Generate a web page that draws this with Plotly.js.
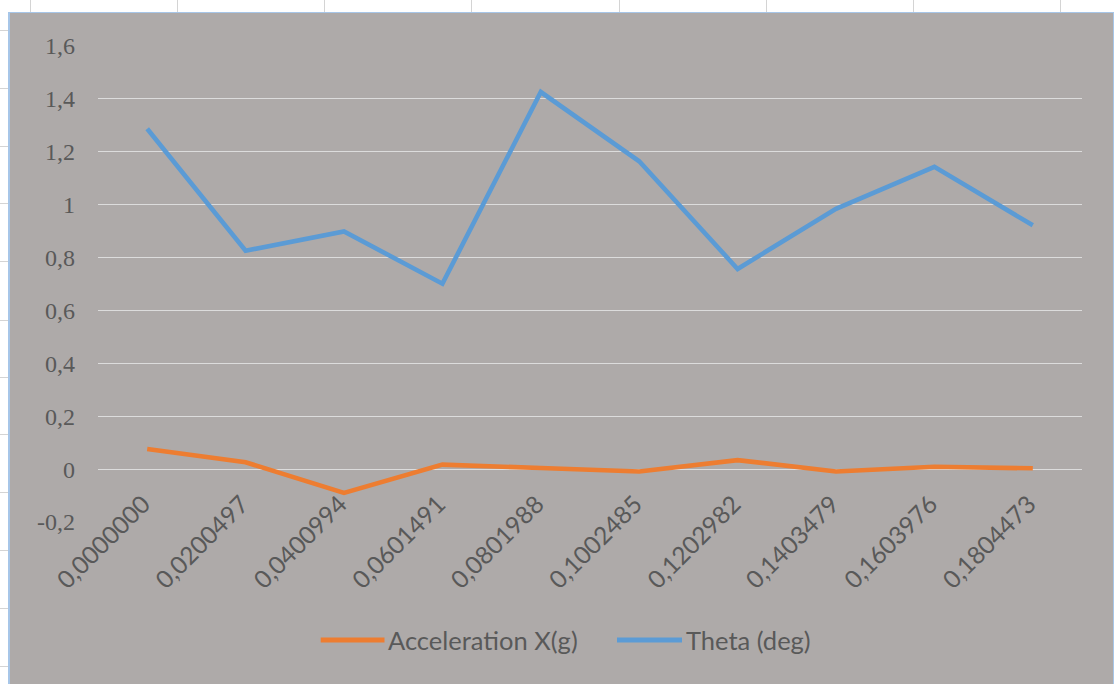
<!DOCTYPE html>
<html>
<head>
<meta charset="utf-8">
<script src="https://cdn.plot.ly/plotly-3.0.1.min.js"></script>
<style>
  html, body { margin: 0; padding: 0; background: #ffffff; }
  body { width: 1117px; height: 684px; position: relative; overflow: hidden; }
  .cell-line { position: absolute; background: #d4d4d4; }
  #chart {
    position: absolute; left: 8px; top: 12px;
    width: 1103px; height: 671px;
    border-left: 2px solid #a7c6e8; border-top: 1px solid #a7c6e8; border-right: 1px solid #a7c6e8;
  }
</style>
</head>
<body>
<div id="chart"></div>
<script>
// Time stamps (s) used as category labels
const timeLabels = ['0,0000000', '0,0200497', '0,0400994', '0,0601491', '0,0801988',
                    '0,1002485', '0,1202982', '0,1403479', '0,1603976', '0,1804473'];

// Series values
const accelName = 'Acceleration X(g)';
const accelX = [0.076, 0.026, -0.090, 0.017, 0.004, -0.009, 0.034, -0.009, 0.009, 0.003];

const thetaName = 'Theta (deg)';
const theta = [1.287, 0.826, 0.899, 0.701, 1.426, 1.164, 0.757, 0.984, 1.143, 0.922];

// Value axis ticks
const yTickVals = [-0.2, 0, 0.2, 0.4, 0.6, 0.8, 1, 1.2, 1.4, 1.6];
const yTickText = ['-0,2', '0', '0,2', '0,4', '0,6', '0,8', '1', '1,2', '1,4', '1,6'];

// Worksheet cell borders around the chart object
const colLines = [30, 177, 324, 471, 619, 766, 913, 1060];
const rowLines = [30, 88, 146, 203, 261, 320, 377, 434, 492, 550, 608, 666];
colLines.forEach(x => {
  const d = document.createElement('div');
  d.className = 'cell-line';
  d.style.cssText = `left:${x}px;top:0;width:1px;height:12px;`;
  document.body.appendChild(d);
});
rowLines.forEach(y => {
  const d = document.createElement('div');
  d.className = 'cell-line';
  d.style.cssText = `left:0;top:${y}px;width:8px;height:1px;`;
  document.body.appendChild(d);
});

const W = 1103, H = 671;
const M = { l: 88, r: 31, t: 33, b: 162 };
const plotW = W - M.l - M.r, plotH = H - M.t - M.b;
const fx = px => (px - M.l) / plotW;
const fy = py => (H - M.b - py) / plotH;

const yMin = yTickVals[0], yMax = yTickVals[yTickVals.length - 1];
const textColor = '#595959';
const orange = '#ED7D31', blue = '#5B9BD5';

const traces = [
  { type: 'scatter', mode: 'lines', name: accelName, x: timeLabels, y: accelX,
    line: { color: orange, width: 4.6 }, hoverinfo: 'x+y+name' },
  { type: 'scatter', mode: 'lines', name: thetaName, x: timeLabels, y: theta,
    line: { color: blue, width: 4.6 }, hoverinfo: 'x+y+name' }
];

const legendY = fy(627);
const legendFont = { family: 'Lato, sans-serif', size: 25.5, color: textColor };
const layout = {
  width: W, height: H,
  margin: M,
  paper_bgcolor: '#AEAAA9',
  plot_bgcolor: '#AEAAA9',
  showlegend: false,
  font: { family: 'Lato, sans-serif', color: textColor },
  xaxis: {
    type: 'category',
    range: [-0.5, timeLabels.length - 0.5],
    showgrid: false, zeroline: false, showline: false,
    ticks: '', tickangle: -45,
    anchor: 'free',
    position: (0 - yMin) / (yMax - yMin),
    ticklabelstandoff: 15,
    ticklabelshift: -4,
    tickfont: { family: 'Lato, sans-serif', size: 24.5, color: textColor }
  },
  yaxis: {
    range: [yMin, yMax],
    tickvals: yTickVals, ticktext: yTickText,
    showgrid: true, gridcolor: '#DCDCDC', gridwidth: 1.2,
    zeroline: false, showline: false, ticks: '',
    ticklabelstandoff: 22,
    tickfont: { family: '"Liberation Serif", serif', size: 24, color: textColor }
  },
  shapes: [
    { type: 'line', xref: 'paper', yref: 'paper', x0: fx(310.7), x1: fx(374.5), y0: legendY, y1: legendY,
      line: { color: orange, width: 5 } },
    { type: 'line', xref: 'paper', yref: 'paper', x0: fx(607), x1: fx(672), y0: legendY, y1: legendY,
      line: { color: blue, width: 5 } }
  ],
  annotations: [
    { xref: 'paper', yref: 'paper', x: fx(376), y: legendY, xanchor: 'left', yanchor: 'middle',
      showarrow: false, text: accelName, font: legendFont },
    { xref: 'paper', yref: 'paper', x: fx(674), y: legendY, xanchor: 'left', yanchor: 'middle',
      showarrow: false, text: thetaName, font: legendFont }
  ]
};

Plotly.newPlot('chart', traces, layout, { displayModeBar: false, staticPlot: true });
</script>
</body>
</html>
